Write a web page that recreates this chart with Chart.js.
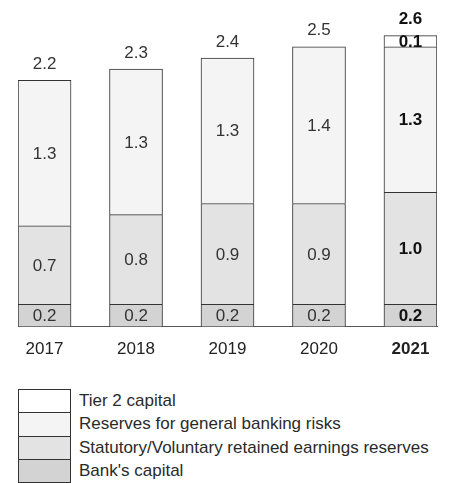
<!DOCTYPE html>
<html>
<head>
<meta charset="utf-8">
<script src="https://cdn.jsdelivr.net/npm/chart.js@4.4.1/dist/chart.umd.min.js"></script>
<style>
	body { margin: 0; background: #fff; font-family: "Liberation Sans", Arial, sans-serif; }
	#wrap { position: relative; width: 449px; height: 384px; }
	#legend { position: absolute; left: 18px; top: 389px; }
	.item { position: relative; height: 23.3px; }
	.box { position: absolute; left: 0; top: 0; width: 53px; height: 24.3px; box-sizing: border-box; border: 1px solid #333; }
	.txt { position: absolute; left: 61px; top: 0; line-height: 23.3px; font-size: 17px; color: #2a2a2a; white-space: nowrap; }
</style>
</head>
<body>
<div id="wrap"><canvas id="capital"></canvas></div>
<div id="legend"></div>
<script>
const years = ["2017", "2018", "2019", "2020", "2021"];
const banksCapital = [0.2, 0.2, 0.2, 0.2, 0.2];
const retainedReserves = [0.7, 0.8, 0.9, 0.9, 1.0];
const bankingRiskReserves = [1.3, 1.3, 1.3, 1.4, 1.3];
const tier2Capital = [0, 0, 0, 0, 0.1];
const totals = [2.2, 2.3, 2.4, 2.5, 2.6];
const boldIndex = 4;

const FONT = '"Liberation Sans", Arial, sans-serif';

function points(values) {
	return values.map((v, i) => ({ x: i, y: v }));
}

function makeSet(label, values, color) {
	return {
		label: label,
		data: points(values),
		backgroundColor: color,
		borderColor: "#333",
		borderWidth: (c) => (c.parsed && c.parsed.y ? 1 : 0),
		borderSkipped: "bottom",
		barThickness: 53,
	};
}

const datasets = [
	makeSet("Bank's capital", banksCapital, "#d3d3d3"),
	makeSet("Statutory/Voluntary retained earnings reserves", retainedReserves, "#e3e3e3"),
	makeSet("Reserves for general banking risks", bankingRiskReserves, "#f4f4f4"),
	makeSet("Tier 2 capital", tier2Capital, "#ffffff"),
];

const valueLabels = {
	id: "valueLabels",
	afterDatasetsDraw(chart) {
		const ctx = chart.ctx;
		ctx.save();
		ctx.textAlign = "center";
		ctx.textBaseline = "middle";
		chart.data.datasets.forEach((ds, di) => {
			const meta = chart.getDatasetMeta(di);
			meta.data.forEach((bar, i) => {
				const v = ds.data[i].y;
				if (!v) return;
				ctx.font = (i === boldIndex ? "bold " : "") + "17px " + FONT;
				ctx.fillStyle = i === boldIndex ? "#111" : "#333";
				ctx.fillText(v.toFixed(1), bar.x, (bar.y + bar.base) / 2 + 1);
			});
		});
		const y = chart.scales.y;
		const x = chart.scales.x;
		totals.forEach((t, i) => {
			ctx.font = (i === boldIndex ? "bold " : "") + "17px " + FONT;
			ctx.fillStyle = i === boldIndex ? "#111" : "#333";
			ctx.fillText(t.toFixed(1), x.getPixelForValue(i), y.getPixelForValue(t) - 16);
		});
		ctx.restore();
	},
};

new Chart(document.getElementById("capital").getContext("2d"), {
	type: "bar",
	data: { datasets: datasets },
	options: {
		responsive: true,
		maintainAspectRatio: false,
		animation: false,
		layout: { padding: { left: 18, right: 12, top: 2, bottom: 11 } },
		plugins: { legend: { display: false }, tooltip: { enabled: false } },
		scales: {
			x: {
				type: "linear",
				stacked: true,
				offset: false,
				min: -0.29,
				max: 4.29,
				z: 1,
				grid: { display: false, drawTicks: false },
				border: { display: true, color: "#555", width: 1 },
				afterBuildTicks: (s) => {
					s.ticks = years.map((_, i) => ({ value: i }));
				},
				ticks: {
					padding: 13,
					color: "#222",
					autoSkip: false,
					maxRotation: 0,
					callback: (v) => years[v],
					font: (c) => ({
						family: FONT,
						size: 17,
						weight: c.tick && c.tick.value === boldIndex ? "bold" : "normal",
					}),
				},
			},
			y: {
				stacked: true,
				display: false,
				min: 0,
				max: 2.9,
			},
		},
	},
	plugins: [valueLabels],
});

// legend, top item = top of the stack
const legend = document.getElementById("legend");
datasets.slice().reverse().forEach((ds) => {
	const item = document.createElement("div");
	item.className = "item";
	item.innerHTML = '<div class="box" style="background:' + ds.backgroundColor + '"></div><div class="txt"></div>';
	item.querySelector(".txt").textContent = ds.label;
	legend.appendChild(item);
});
</script>
</body>
</html>
